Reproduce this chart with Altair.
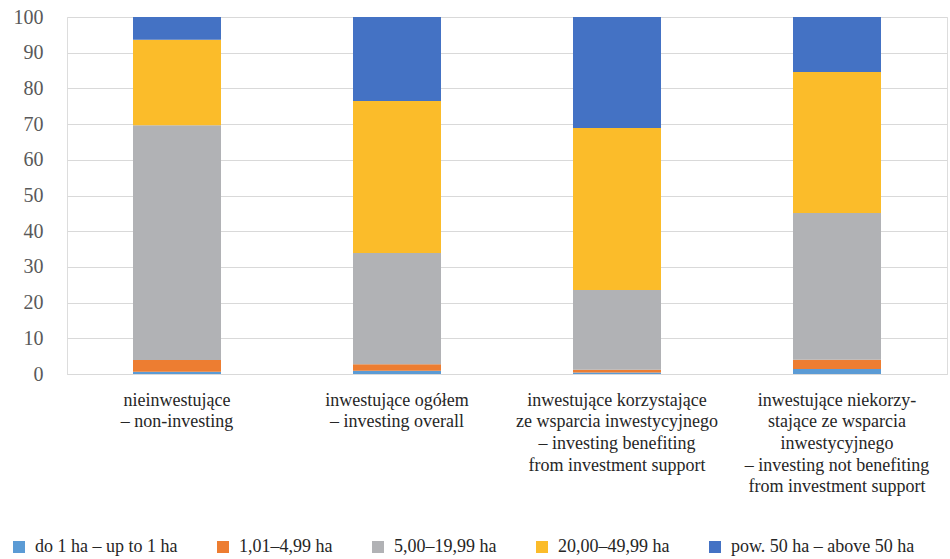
import altair as alt
import pandas as pd

categories = [
    "nieinwestujące|– non-investing",
    "inwestujące ogółem|– investing overall",
    "inwestujące korzystające|ze wsparcia inwestycyjnego|– investing benefiting|from investment support",
    "inwestujące niekorzy-|stające ze wsparcia|inwestycyjnego|– investing not benefiting|from investment support",
]
series = ["do 1 ha – up to 1 ha", "1,01–4,99 ha", "5,00–19,99 ha", "20,00–49,99 ha", "pow. 50 ha – above 50 ha"]
colors = ["#5B9BD5", "#ED7D31", "#B1B2B5", "#FBBC2A", "#4472C4"]
values = {
    "do 1 ha – up to 1 ha": [0.6, 0.9, 0.4, 1.4],
    "1,01–4,99 ha": [3.3, 1.8, 0.8, 2.6],
    "5,00–19,99 ha": [65.8, 31.2, 22.3, 41.1],
    "20,00–49,99 ha": [23.9, 42.6, 45.4, 39.5],
    "pow. 50 ha – above 50 ha": [6.4, 23.5, 31.1, 15.4],
}

rows = []
for si, s in enumerate(series):
    for ci, c in enumerate(categories):
        rows.append({"cat": c, "series": s, "order": si, "value": values[s][ci]})
df = pd.DataFrame(rows)

font = "Liberation Serif"

chart = alt.Chart(df).mark_bar(size=88).encode(
    x=alt.X("cat:N", sort=categories, title=None,
            axis=alt.Axis(labelAngle=0, labelExpr="split(datum.label, '|')",
                          labelFont=font, labelFontSize=18, labelColor="#262626",
                          labelLineHeight=21.7, labelPadding=17, ticks=False,
                          domainColor="#D9D9D9", labelLimit=300)),
    y=alt.Y("value:Q", stack="zero", scale=alt.Scale(domain=[0, 100]), title=None,
            axis=alt.Axis(values=list(range(0, 101, 10)), labelFont=font, labelFontSize=20,
                          labelColor="#595959", ticks=False, domain=False,
                          gridColor="#D9D9D9", labelPadding=24)),
    color=alt.Color("series:N", sort=series, scale=alt.Scale(domain=series, range=colors),
                    legend=alt.Legend(title=None, orient="none", legendX=-57, legendY=521,
                                      direction="horizontal", columns=5, columnPadding=36,
                                      symbolType="square", symbolSize=144, symbolStrokeWidth=0,
                                      labelFont=font, labelFontSize=18, labelColor="#262626",
                                      labelLimit=300, labelOffset=7)),
    order=alt.Order("order:Q"),
).properties(
    width=880, height=357,
    autosize=alt.AutoSizeParams(type="none"),
    padding={"left": 67, "top": 17, "right": 3, "bottom": 185},
).configure_view(stroke=None).configure(background="white")

chart.save("out.html", embed_options={"renderer": "svg", "actions": False})
